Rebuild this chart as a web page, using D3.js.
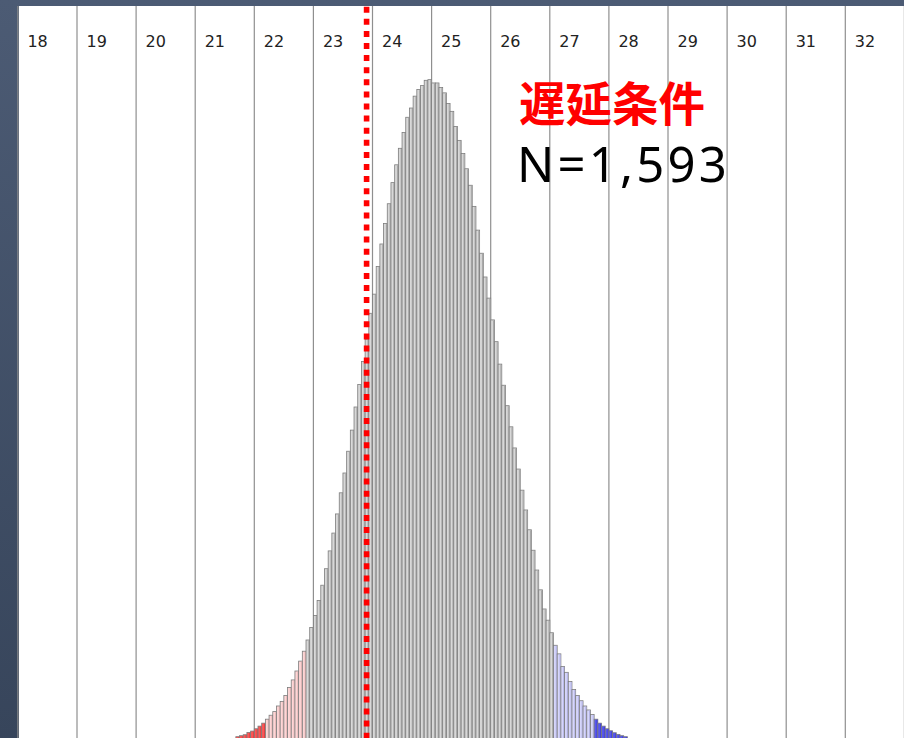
<!DOCTYPE html>
<html>
<head>
<meta charset="utf-8">
<script src="https://cdn.jsdelivr.net/npm/d3@7"></script>
<style>
  html, body { margin: 0; padding: 0; background: #4b5a73; }
  svg { display: block; }
</style>
</head>
<body>
<div id="chart"></div>
<script>
// tick labels along the top
const tickValues = [18, 19, 20, 21, 22, 23, 24, 25, 26, 27, 28, 29, 30, 31, 32];

// histogram: bins of 1/16, first bin starts at 21.6875
const binStart = 21.6875;
const binWidth = 1 / 16;
const counts = [
  0.35, 0.5, 0.65, 1.0, 1.2, 1.55, 1.95, 2.4,            // 59-66
  3.0, 3.6, 4.15, 5.0, 5.7, 6.6, 7.8, 8.95, 10.3, 11.8, 13.3, // 67-77
  15.0, 16.9, 18.7, 21.0, 23.3, 25.8, 28.5, 31.2, 34.1, 37.3,
  40.3, 43.6, 46.8, 50.3, 53.7, 57.2, 60.6, 64.5, 67.4, 71.6,
  75.0, 78.1, 81.1, 84.3, 87.0, 89.5, 91.9, 94.2, 95.6, 97.4,
  98.4, 99.0, 99.8, 99.9, 99.4, 99.4, 98.7, 97.9, 96.3, 95.1,
  92.8, 90.7, 88.7, 86.4, 83.9, 80.7, 77.1, 73.6, 70.0, 66.8,
  63.5, 60.2, 56.8, 53.6, 50.5, 47.3, 44.1, 40.9, 37.7, 34.7,
  31.7, 28.6, 25.6, 22.6,                                  // -141
  19.7, 18.0, 16.1,                                        // 142-144
  14.2, 12.9, 11.0, 10.1, 8.7, 7.5, 6.6, 5.8, 5.0, 4.4, 3.7, // 145-155
  3.0, 2.4, 1.95, 1.55, 1.25, 0.95, 0.7, 0.5, 0.35         // 156-164
];

// colour bands (tail percentiles)
const bandCuts = [22.1875, 22.875, 27.0625, 27.75];
const cutoff = 23.9;

const label = '遅延条件';
const nLabel = 'N=1,593';

const W = 904, H = 738;
const MARGIN = {TOP: 6, LEFT: 18};

const svg = d3.select('#chart').append('svg')
  .attr('width', W)
  .attr('height', H);

const defs = svg.append('defs');
const grad = defs.append('linearGradient')
  .attr('id', 'side')
  .attr('x1', 0).attr('y1', 0).attr('x2', 0).attr('y2', 1);
grad.append('stop').attr('offset', '0%').attr('stop-color', '#4c5b74');
grad.append('stop').attr('offset', '100%').attr('stop-color', '#37455b');

svg.append('rect').attr('width', W).attr('height', H).attr('fill', 'url(#side)');
svg.append('rect')
  .attr('x', MARGIN.LEFT + 1).attr('y', MARGIN.TOP)
  .attr('width', W - MARGIN.LEFT).attr('height', H - MARGIN.TOP)
  .attr('fill', '#ffffff');

const x = d3.scaleLinear().domain([18, 33]).range([17.9, 904.4]);
const y = d3.scaleLinear().domain([0, 100]).range([739, 79]);

const fill = d3.scaleThreshold().domain(bandCuts)
  .range(['#ff5656', '#fdd6d6', '#d8d8d8', '#d6d6fb', '#5858f0']);
const shade = d3.scaleThreshold().domain(bandCuts)
  .range(['#e04444', '#e9baba', '#a9a9a9', '#b4b4e4', '#4444d0']);

// vertical grid + labels
const grid = svg.append('g');
grid.selectAll('line').data(tickValues.concat([33]))
  .enter().append('line')
  .attr('x1', d => x(d)).attr('x2', d => x(d))
  .attr('y1', MARGIN.TOP).attr('y2', H)
  .attr('stroke', '#8f8f8f')
  .attr('stroke-width', 1.2);

grid.selectAll('text').data(tickValues)
  .enter().append('text')
  .attr('x', d => x(d) + 9.5)
  .attr('y', 47.3)
  .attr('font-family', 'DejaVu Sans, sans-serif')
  .attr('font-size', 16)
  .attr('fill', '#222')
  .text(d => d);

// bars
const bins = counts.map((c, i) => ({lo: binStart + i * binWidth, c: c}));
const bars = svg.append('g').selectAll('g').data(bins).enter().append('g');

bars.append('rect')
  .attr('x', d => x(d.lo))
  .attr('y', d => y(d.c))
  .attr('width', d => x(d.lo + binWidth) - x(d.lo))
  .attr('height', d => y(0) - y(d.c) + 2)
  .attr('fill', d => fill(d.lo + binWidth / 2))
  .attr('stroke', '#7c7c7c')
  .attr('stroke-width', 0.8);

bars.append('rect')
  .attr('x', d => x(d.lo + binWidth) - 1.4)
  .attr('y', d => y(d.c) + 0.5)
  .attr('width', 1.1)
  .attr('height', d => y(0) - y(d.c) + 2)
  .attr('fill', d => shade(d.lo + binWidth / 2));

// cutoff line
svg.append('line')
  .attr('x1', x(cutoff)).attr('x2', x(cutoff))
  .attr('y1', 6.7).attr('y2', H)
  .attr('stroke', '#ff0000')
  .attr('stroke-width', 5.6)
  .attr('stroke-dasharray', '6,6.1');

// condition label
svg.append('text')
  .attr('x', 519).attr('y', 121)
  .attr('font-family', 'Noto Sans CJK JP, sans-serif')
  .attr('font-weight', 'bold')
  .attr('font-size', 46.5)
  .attr('fill', '#ff0000')
  .text(label);

svg.append('text')
  .attr('x', 517).attr('y', 181.7)
  .attr('font-family', 'Noto Sans, sans-serif')
  .attr('font-size', 49)
  .attr('letter-spacing', 3.2)
  .attr('fill', '#000')
  .text(nLabel);
</script>
</body>
</html>
